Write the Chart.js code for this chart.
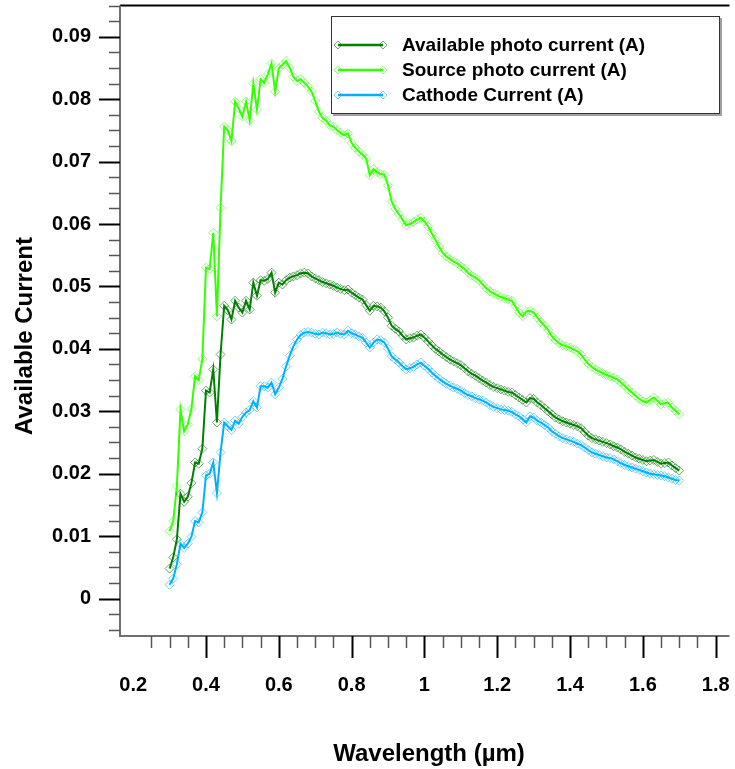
<!DOCTYPE html>
<html>
<head>
<meta charset="utf-8">
<script src="https://cdn.jsdelivr.net/npm/chart.js@4.4.0/dist/chart.umd.min.js"></script>
<style>
  html, body { margin: 0; padding: 0; background: #fff; }
  canvas { display: block; }
</style>
</head>
<body>
<canvas id="chart" width="735" height="769"></canvas>
<script>
// Wavelength (um)
const wavelengths = [
  0.30, 0.31, 0.32, 0.33, 0.34, 0.35, 0.36, 0.37, 0.38, 0.39,
  0.40, 0.41, 0.42, 0.43, 0.44, 0.45, 0.46, 0.47, 0.48, 0.49,
  0.50, 0.51, 0.52, 0.53, 0.54, 0.55, 0.56, 0.57, 0.58, 0.59,
  0.60, 0.61, 0.62, 0.63, 0.64, 0.65, 0.66, 0.67, 0.68, 0.69,
  0.70, 0.71, 0.72, 0.73, 0.74, 0.75, 0.76, 0.77, 0.78, 0.79,
  0.80, 0.81, 0.82, 0.83, 0.84, 0.85, 0.86, 0.87, 0.88, 0.89,
  0.90, 0.91, 0.92, 0.93, 0.94, 0.95, 0.96, 0.97, 0.98, 0.99,
  1.00, 1.01, 1.02, 1.03, 1.04, 1.05, 1.06, 1.07, 1.08, 1.09,
  1.10, 1.11, 1.12, 1.13, 1.14, 1.15, 1.16, 1.17, 1.18, 1.19,
  1.20, 1.21, 1.22, 1.23, 1.24, 1.25, 1.26, 1.27, 1.28, 1.29,
  1.30, 1.31, 1.32, 1.33, 1.34, 1.35, 1.36, 1.37, 1.38, 1.39,
  1.40, 1.41, 1.42, 1.43, 1.44, 1.45, 1.46, 1.47, 1.48, 1.49,
  1.50, 1.51, 1.52, 1.53, 1.54, 1.55, 1.56, 1.57, 1.58, 1.59,
  1.60, 1.61, 1.62, 1.63, 1.64, 1.65, 1.66, 1.67, 1.68, 1.69,
  1.70
];

// Available photo current (A)
const availableCurrent = [
  0.0048, 0.0066, 0.0095, 0.0168, 0.0155, 0.0163, 0.0185, 0.0218, 0.0216, 0.0240,
  0.0333, 0.0330, 0.0367, 0.0282, 0.0391, 0.0469, 0.0462, 0.0447, 0.0477, 0.0466,
  0.0458, 0.0477, 0.0463, 0.0506, 0.0485, 0.0510, 0.0509, 0.0512, 0.0522, 0.0490,
  0.0506, 0.0503, 0.0510, 0.0514, 0.0516, 0.0518, 0.0521, 0.0522, 0.0521, 0.0516,
  0.0513, 0.0510, 0.0507, 0.0505, 0.0503, 0.0501, 0.0498, 0.0496, 0.0494, 0.0495,
  0.0490, 0.0486, 0.0482, 0.0479, 0.0470, 0.0461, 0.0469, 0.0468, 0.0466, 0.0460,
  0.0450, 0.0437, 0.0432, 0.0428, 0.0421, 0.0415, 0.0417, 0.0418, 0.0421, 0.0423,
  0.0418, 0.0412, 0.0406, 0.0400, 0.0396, 0.0391, 0.0387, 0.0383, 0.0380, 0.0377,
  0.0374, 0.0369, 0.0364, 0.0360, 0.0357, 0.0353, 0.0349, 0.0346, 0.0342, 0.0339,
  0.0337, 0.0335, 0.0333, 0.0331, 0.0330, 0.0326, 0.0322, 0.0318, 0.0314, 0.0321,
  0.0320, 0.0314, 0.0310, 0.0305, 0.0300, 0.0295, 0.0290, 0.0287, 0.0284, 0.0282,
  0.0280, 0.0278, 0.0276, 0.0273, 0.0267, 0.0261, 0.0257, 0.0255, 0.0253, 0.0251,
  0.0249, 0.0247, 0.0244, 0.0242, 0.0239, 0.0235, 0.0232, 0.0229, 0.0226, 0.0224,
  0.0222, 0.0220, 0.0221, 0.0222, 0.0219, 0.0216, 0.0217, 0.0218, 0.0213, 0.0209,
  0.0205
];

// Source photo current (A)
const sourceCurrent = [
  0.0108, 0.0124, 0.0180, 0.0303, 0.0268, 0.0279, 0.0304, 0.0356, 0.0350, 0.0384,
  0.0530, 0.0528, 0.0586, 0.0452, 0.0626, 0.0756, 0.0750, 0.0733, 0.0796, 0.0785,
  0.0772, 0.0796, 0.0766, 0.0825, 0.0783, 0.0832, 0.0826, 0.0840, 0.0857, 0.0812,
  0.0849, 0.0855, 0.0861, 0.0850, 0.0836, 0.0829, 0.0832, 0.0826, 0.0820, 0.0812,
  0.0797, 0.0780, 0.0770, 0.0766, 0.0758, 0.0756, 0.0750, 0.0746, 0.0742, 0.0745,
  0.0730, 0.0722, 0.0716, 0.0711, 0.0705, 0.0678, 0.0688, 0.0683, 0.0680, 0.0679,
  0.0662, 0.0636, 0.0624, 0.0616, 0.0607, 0.0598, 0.0600, 0.0603, 0.0607, 0.0610,
  0.0604, 0.0596, 0.0585, 0.0575, 0.0564, 0.0554, 0.0548, 0.0544, 0.0540, 0.0537,
  0.0532, 0.0528, 0.0522, 0.0517, 0.0514, 0.0510, 0.0503, 0.0497, 0.0492, 0.0489,
  0.0486, 0.0483, 0.0481, 0.0479, 0.0477, 0.0468, 0.0458, 0.0452, 0.0460, 0.0461,
  0.0458, 0.0450, 0.0443, 0.0437, 0.0430, 0.0420, 0.0414, 0.0409, 0.0406, 0.0404,
  0.0402, 0.0399, 0.0396, 0.0391, 0.0383, 0.0376, 0.0371, 0.0367, 0.0364, 0.0361,
  0.0358, 0.0356, 0.0354, 0.0351, 0.0346, 0.0341, 0.0335, 0.0330, 0.0325, 0.0320,
  0.0316, 0.0314, 0.0318, 0.0322, 0.0317, 0.0311, 0.0313, 0.0314, 0.0306, 0.0301,
  0.0295
];

// Cathode Current (A)
const cathodeCurrent = [
  0.0022, 0.0032, 0.0055, 0.0088, 0.0081, 0.0088, 0.0099, 0.0124, 0.0122, 0.0138,
  0.0197, 0.0200, 0.0218, 0.0169, 0.0234, 0.0282, 0.0276, 0.0270, 0.0285, 0.0280,
  0.0291, 0.0298, 0.0302, 0.0316, 0.0306, 0.0340, 0.0340, 0.0338, 0.0346, 0.0327,
  0.0338, 0.0352, 0.0372, 0.0389, 0.0404, 0.0415, 0.0422, 0.0426, 0.0427, 0.0426,
  0.0424, 0.0423, 0.0426, 0.0425, 0.0423, 0.0424, 0.0426, 0.0424, 0.0423, 0.0429,
  0.0425, 0.0423, 0.0420, 0.0418, 0.0410, 0.0402, 0.0410, 0.0415, 0.0414, 0.0410,
  0.0400, 0.0388, 0.0383, 0.0378, 0.0372, 0.0367, 0.0369, 0.0371, 0.0375, 0.0378,
  0.0373, 0.0368, 0.0362, 0.0357, 0.0352, 0.0348, 0.0344, 0.0341, 0.0338, 0.0336,
  0.0333, 0.0329, 0.0326, 0.0324, 0.0321, 0.0319, 0.0317, 0.0314, 0.0310, 0.0307,
  0.0305, 0.0303, 0.0302, 0.0301, 0.0299, 0.0295, 0.0292, 0.0287, 0.0282, 0.0292,
  0.0290, 0.0285, 0.0282, 0.0278, 0.0274, 0.0268, 0.0264, 0.0260, 0.0257, 0.0255,
  0.0253, 0.0251, 0.0248, 0.0246, 0.0242, 0.0238, 0.0234, 0.0232, 0.0230, 0.0228,
  0.0226, 0.0225, 0.0223, 0.0220, 0.0217, 0.0214, 0.0212, 0.0210, 0.0208, 0.0206,
  0.0204, 0.0202, 0.0200, 0.0199, 0.0198, 0.0197, 0.0196, 0.0194, 0.0192, 0.0190,
  0.0189
];

const seriesLabels = ["Available photo current (A)", "Source photo current (A)", "Cathode Current (A)"];
const xTicks = [0.2, 0.4, 0.6, 0.8, 1.0, 1.2, 1.4, 1.6, 1.8];
const yTicks = [0, 0.01, 0.02, 0.03, 0.04, 0.05, 0.06, 0.07, 0.08, 0.09];

const lineColors = ["#008000", "#33ff00", "#00b0ff"];
const markerColors = ["rgba(0,120,0,0.6)", "rgba(70,255,30,0.6)", "rgba(0,176,255,0.55)"];

const FONT = "'Liberation Sans', Arial, sans-serif";

function toPoints(values) {
  return values.map((v, i) => ({ x: wavelengths[i], y: v }));
}

function makeDataset(i, values) {
  return {
    label: seriesLabels[i],
    data: toPoints(values),
    borderColor: lineColors[i],
    borderWidth: 2,
    pointStyle: "rectRot",
    pointRadius: 4.5,
    pointBorderWidth: 1,
    pointBorderColor: markerColors[i],
    pointBackgroundColor: "rgba(0,0,0,0)",
    tension: 0,
    fill: false,
  };
}

// Axis lines, minor ticks, titles and legend box
const decorations = {
  id: "decorations",
  afterDraw(chart) {
    const ctx = chart.ctx;
    const { left, right, top, bottom } = chart.chartArea;
    const xs = chart.scales.x;
    const ys = chart.scales.y;
    ctx.save();

    // frame: top border + axes
    ctx.lineWidth = 2;
    ctx.strokeStyle = "#000";
    ctx.beginPath();
    ctx.moveTo(left, top);
    ctx.lineTo(right, top);
    ctx.stroke();
    ctx.strokeStyle = "#707070";
    ctx.beginPath();
    ctx.moveTo(left, top);
    ctx.lineTo(left, bottom);
    ctx.lineTo(right, bottom);
    ctx.stroke();

    // y ticks
    for (let k = -2; k <= 38; k++) {
      const v = k * 0.0025;
      const py = Math.round(ys.getPixelForValue(v)) + 0.5;
      if (py < top - 1 || py > bottom + 1) continue;
      const major = k % 4 === 0;
      ctx.strokeStyle = major ? "#000" : "#555";
      ctx.lineWidth = major ? 2 : 1.5;
      ctx.beginPath();
      ctx.moveTo(major ? left - 21 : left - 11, py);
      ctx.lineTo(left, py);
      ctx.stroke();
    }

    // x ticks
    for (let k = 5; k <= 36; k++) {
      const v = k * 0.05;
      const px = Math.round(xs.getPixelForValue(v)) + 0.5;
      if (px < left || px > right) continue;
      const major = k % 4 === 0;
      ctx.strokeStyle = major ? "#000" : "#555";
      ctx.lineWidth = major ? 2 : 1.5;
      ctx.beginPath();
      ctx.moveTo(px, bottom);
      ctx.lineTo(px, major ? bottom + 22 : bottom + 12);
      ctx.stroke();
    }

    // axis titles
    ctx.fillStyle = "#000";
    ctx.font = "bold 24px " + FONT;
    ctx.textAlign = "center";
    ctx.textBaseline = "alphabetic";
    ctx.fillText("Wavelength (µm)", 429, 761);
    ctx.save();
    ctx.translate(32, 336);
    ctx.rotate(-Math.PI / 2);
    ctx.fillText("Available Current", 0, 0);
    ctx.restore();

    // legend
    const bx = 331, by = 16, bw = 389, bh = 98;
    ctx.fillStyle = "#a0a0a0";
    ctx.fillRect(bx + 2, by + 2, bw, bh);
    ctx.fillStyle = "#fff";
    ctx.fillRect(bx, by, bw, bh);
    ctx.strokeStyle = "#333";
    ctx.lineWidth = 1;
    ctx.strokeRect(bx + 0.5, by + 0.5, bw - 1, bh - 1);

    ctx.font = "bold 19px " + FONT;
    ctx.textAlign = "left";
    ctx.textBaseline = "middle";
    seriesLabels.forEach((label, i) => {
      const ly = 45 + i * 25;
      ctx.strokeStyle = lineColors[i];
      ctx.lineWidth = 2.5;
      ctx.beginPath();
      ctx.moveTo(338, ly);
      ctx.lineTo(383, ly);
      ctx.stroke();
      [338, 383].forEach((mx) => {
        ctx.strokeStyle = markerColors[i];
        ctx.lineWidth = 1;
        ctx.beginPath();
        ctx.moveTo(mx, ly - 4);
        ctx.lineTo(mx + 4, ly);
        ctx.lineTo(mx, ly + 4);
        ctx.lineTo(mx - 4, ly);
        ctx.closePath();
        ctx.stroke();
      });
      ctx.fillStyle = "#000";
      ctx.fillText(label, 402, ly + 1);
    });

    ctx.restore();
  },
};

new Chart(document.getElementById("chart"), {
  type: "line",
  data: {
    datasets: [
      makeDataset(0, availableCurrent),
      makeDataset(1, sourceCurrent),
      makeDataset(2, cathodeCurrent),
    ],
  },
  options: {
    responsive: false,
    animation: false,
    events: [],
    layout: { padding: { top: 5, right: 0, bottom: 0, left: 0 } },
    plugins: {
      legend: { display: false },
      tooltip: { enabled: false },
    },
    scales: {
      x: {
        type: "linear",
        min: 0.1638,
        max: 1.838,
        grid: { display: false, drawTicks: false },
        border: { display: false },
        afterBuildTicks: (s) => { s.ticks = xTicks.map((v) => ({ value: v })); },
        afterFit: (s) => {
          s.height = 133;
          s.paddingLeft = 0;
          s.paddingRight = 0;
        },
        ticks: {
          autoSkip: false,
          maxRotation: 0,
          padding: 37,
          color: "#000",
          font: { family: FONT, size: 20, weight: "bold" },
          callback: (v) => String(+v.toFixed(1)),
        },
      },
      y: {
        type: "linear",
        min: -0.006,
        max: 0.095,
        grid: { display: false, drawTicks: false },
        border: { display: false },
        afterBuildTicks: (s) => { s.ticks = yTicks.map((v) => ({ value: v })); },
        afterFit: (s) => {
          s.width = 120;
          s.paddingTop = 0;
          s.paddingBottom = 0;
        },
        ticks: {
          autoSkip: false,
          padding: 29,
          color: "#000",
          font: { family: FONT, size: 20, weight: "bold" },
          callback: (v) => String(+v.toFixed(2)),
        },
      },
    },
  },
  plugins: [decorations],
});
</script>
</body>
</html>
